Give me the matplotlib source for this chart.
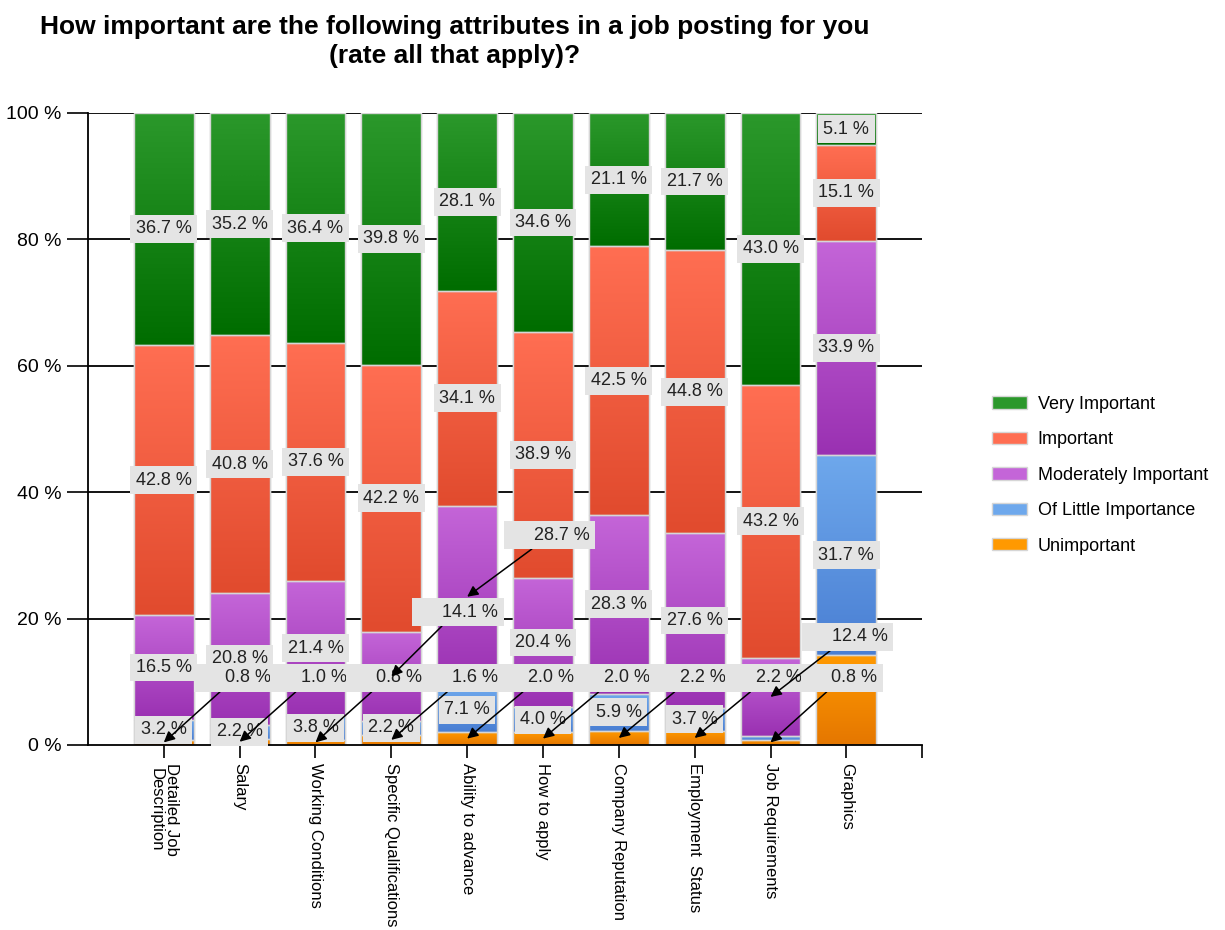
import numpy as np
import matplotlib
matplotlib.use('Agg')
import matplotlib.pyplot as plt
from matplotlib.colors import LinearSegmentedColormap

plt.rcParams['font.family'] = ['Liberation Sans', 'DejaVu Sans']

categories = ['Detailed Job\nDescription', 'Salary', 'Working Conditions',
              'Specific Qualifications', 'Ability to advance', 'How to apply',
              'Company Reputation', 'Employment  Status', 'Job Requirements',
              'Graphics']
series_names = ['Unimportant', 'Of Little Importance', 'Moderately Important',
                'Important', 'Very Important']
unimportant = [0.8, 1.0, 0.8, 1.6, 2.0, 2.0, 2.2, 2.2, 0.8, 14.2]
little = [3.2, 2.2, 3.8, 2.2, 7.1, 4.0, 5.9, 3.7, 0.6, 31.7]
moderate = [16.5, 20.8, 21.4, 14.1, 28.7, 20.4, 28.3, 27.6, 12.4, 33.9]
important = [42.8, 40.8, 37.6, 42.2, 34.1, 38.9, 42.5, 44.8, 43.2, 15.1]
very = [36.7, 35.2, 36.4, 39.8, 28.1, 34.6, 21.1, 21.7, 43.0, 5.1]

# (top colour, bottom colour) of the gradient for each series
grads = [('#ff9900', '#e57700'),
         ('#6ea8ec', '#4a7fd3'),
         ('#c465d8', '#9a31b2'),
         ('#ff6e52', '#e14b2e'),
         ('#2b982b', '#006d00')]

# labels that sit next to the bar with a leader arrow: (series, bar) -> x, y
callouts = {(0, 0): (1.41, 10.6), (0, 1): (2.41, 10.6), (0, 2): (3.41, 10.6),
            (0, 3): (4.41, 10.6), (0, 4): (5.41, 10.6), (0, 5): (6.41, 10.6),
            (0, 6): (7.41, 10.6), (0, 7): (8.41, 10.6), (0, 8): (9.41, 10.6),
            (2, 3): (4.41, 21.0), (2, 4): (5.62, 33.2), (2, 8): (9.55, 17.1)}
hidden = {(1, 8), (0, 9)}

raw = [unimportant, little, moderate, important, very]
data = np.array(raw)
data = data / data.sum(axis=0) * 100
x = np.arange(len(categories))

fig = plt.figure(figsize=(12.25, 9.3), dpi=100)
ax = fig.add_axes([0.0718, 0.199, 0.681, 0.6795])

bottom = np.zeros(len(categories))
handles = []
for s, vals in enumerate(data):
    top_c, bot_c = grads[s]
    cmap = LinearSegmentedColormap.from_list('g%d' % s, [bot_c, top_c])
    bars = ax.bar(x, vals, 0.79, bottom=bottom, color=top_c,
                  edgecolor='#d6d6d6', linewidth=1, zorder=2,
                  label=series_names[s])
    handles.append(bars)
    for p in bars.patches:
        if p.get_height() <= 0:
            continue
        g = np.linspace(0, 1, 64).reshape(-1, 1)
        im = ax.imshow(g, cmap=cmap, origin='lower', aspect='auto',
                       extent=[p.get_x(), p.get_x() + p.get_width(),
                               p.get_y(), p.get_y() + p.get_height()],
                       zorder=2.1, interpolation='bilinear')
        im.set_clip_path(p)
    ax.bar(x, vals, 0.79, bottom=bottom, fill=False, edgecolor='#d6d6d6',
           linewidth=1, zorder=2.2)

    for i, v in enumerate(vals):
        key = (s, i)
        if key in hidden:
            continue
        mid = bottom[i] + v / 2
        txt = '%.1f %%' % raw[s][i]
        box = dict(boxstyle='square,pad=0.3', fc='#e4e4e4', ec='none')
        if key in callouts:
            tx, ty = callouts[key]
            ax.annotate('     ' + txt, xy=(i, mid), xytext=(tx, ty),
                        ha='right', va='center', fontsize=13, color='#222222',
                        bbox=box, zorder=5,
                        arrowprops=dict(arrowstyle='-|>', color='black',
                                        lw=1.1, mutation_scale=16,
                                        relpos=(0.37, 0.0),
                                        shrinkA=0, shrinkB=0))
        else:
            ax.text(i, mid, txt, ha='center', va='center', fontsize=13,
                    color='#222222', bbox=box, zorder=4)
    bottom += vals

ax.set_xlim(-1, 10)
ax.set_ylim(0, 100)
ax.set_yticks([0, 20, 40, 60, 80, 100])
ax.set_yticklabels(['%d %%' % t for t in [0, 20, 40, 60, 80, 100]])
ax.set_xticks(x)
ax.set_xticklabels(categories, rotation=270, va='top', ha='center',
                   fontsize=12, linespacing=1.0)
ax.set_xticks([10], minor=True)
ax.tick_params(axis='y', length=15, width=1.2, labelsize=14, pad=4)
ax.tick_params(axis='x', which='both', length=9, width=1.2, pad=4)
for yv in [20, 40, 60, 80, 100]:
    ax.axhline(yv, color='black', lw=1.3, zorder=1)
for side in ['top', 'right']:
    ax.spines[side].set_visible(False)
for side in ['left', 'bottom']:
    ax.spines[side].set_linewidth(1.3)

ax.legend(handles=handles[::-1], loc='center left',
          bbox_to_anchor=(0.8095, 0.489), bbox_transform=fig.transFigure,
          frameon=False, fontsize=13, handlelength=1.95, handleheight=0.67,
          handletextpad=0.6, labelspacing=1.02, borderpad=0, borderaxespad=0)

fig.text(0.371, 0.984, 'How important are the following attributes in a job posting for you\n(rate all that apply)?',
         ha='center', va='top', fontsize=19, fontweight='bold', linespacing=1.27)

fig.savefig('out.png', dpi=100)
